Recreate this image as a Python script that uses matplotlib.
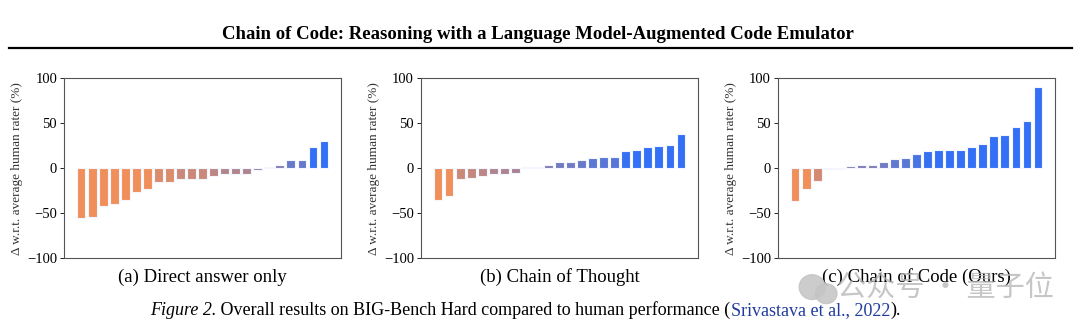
import numpy as np
import matplotlib
matplotlib.use("Agg")
import matplotlib.pyplot as plt
from matplotlib.colors import LinearSegmentedColormap, Normalize
from matplotlib.lines import Line2D
from matplotlib.patches import Ellipse

# values (23 BBH tasks, sorted)
direct = [-56, -54, -42.5, -40, -35, -27, -23.5, -15.5, -15.5, -12, -12, -12,
          -9, -7, -7, -6, -2, 1.5, 3, 9, 9.5, 24, 30]
cot = [-35, -30.5, -12, -10.5, -8.5, -6.5, -6, -5, 1, 1.5, 3.5, 6.5, 7, 9,
       11, 12, 12, 19, 20, 24, 25, 26, 38.5]
coc = [-36, -23, -14, -1.5, -0.5, 2, 4, 4, 7, 10, 11.5, 15.5, 19, 20, 20.5,
       20.5, 24, 27, 35.5, 37, 46, 52, 90.5]
subtitles = ["(a) Direct answer only", "(b) Chain of Thought", "(c) Chain of Code (Ours)"]
yticks = [-100, -50, 0, 50, 100]
caption = [("Figure 2.", "italic", "black"),
           (" Overall results on BIG-Bench Hard compared to human performance (", "normal", "black"),
           ("Srivastava et al., 2022", "normal", "#1f3c9c"),
           (").", "normal", "black")]

plt.rcParams['font.family'] = ['Liberation Serif', 'DejaVu Serif']

cmap = LinearSegmentedColormap.from_list("ob", ["#f08f5a", "#3370f5"])
norm = Normalize(vmin=-20, vmax=20, clip=True)

fig = plt.figure(figsize=(10.8, 3.3), dpi=100)

lefts = [0.0593, 0.3898, 0.7204]
for left, vals, sub in zip(lefts, [direct, cot, coc], subtitles):
    ax = fig.add_axes([left, 0.218, 0.2565, 0.545])
    x = np.arange(len(vals))
    ax.bar(x, vals, width=0.8, color=cmap(norm(np.array(vals))),
           edgecolor="#f4f6ff", linewidth=0.8)
    ax.set_ylim(-100, 100)
    ax.set_yticks(yticks)
    ax.set_xticks([])
    ax.tick_params(axis='y', labelsize=10.5, length=3, width=0.6, pad=2)
    for s in ax.spines.values():
        s.set_color("#555555")
        s.set_linewidth(0.8)
    ax.set_ylabel("Δ w.r.t. average human rater (%)", fontsize=9.5, labelpad=3,
                  color="#333333")
    ax.text(0.5, -0.105, sub, transform=ax.transAxes, ha='center', va='center',
            fontsize=13.5)

fig.text(0.498, 0.895, "Chain of Code: Reasoning with a Language Model-Augmented Code Emulator",
         ha='center', va='center', fontsize=13.5, fontweight='bold')
fig.add_artist(Line2D([0.008, 0.993], [0.855, 0.855], color='black', linewidth=1.6))

# caption laid out piece by piece
renderer = fig.canvas.get_renderer()
xpos = 150
for txt, st, col in caption:
    t = fig.text(xpos / 1080, 0.06, txt, ha='left', va='center', fontsize=13,
                 style=st, color=col)
    xpos += t.get_window_extent(renderer).width

# watermark
fig.add_artist(Ellipse((0.752, 0.13), 0.024, 0.075, transform=fig.transFigure,
                       color='#c4c4c4', alpha=0.85))
fig.add_artist(Ellipse((0.765, 0.11), 0.02, 0.06, transform=fig.transFigure,
                       color='#c4c4c4', alpha=0.85))
fig.text(0.775, 0.125, "公众号 · 量子位", ha='left', va='center', fontsize=21,
         color='#b4b4b4', alpha=0.75,
         family=['Noto Sans CJK SC', 'DejaVu Sans'])

fig.savefig("out.png", dpi=100)
